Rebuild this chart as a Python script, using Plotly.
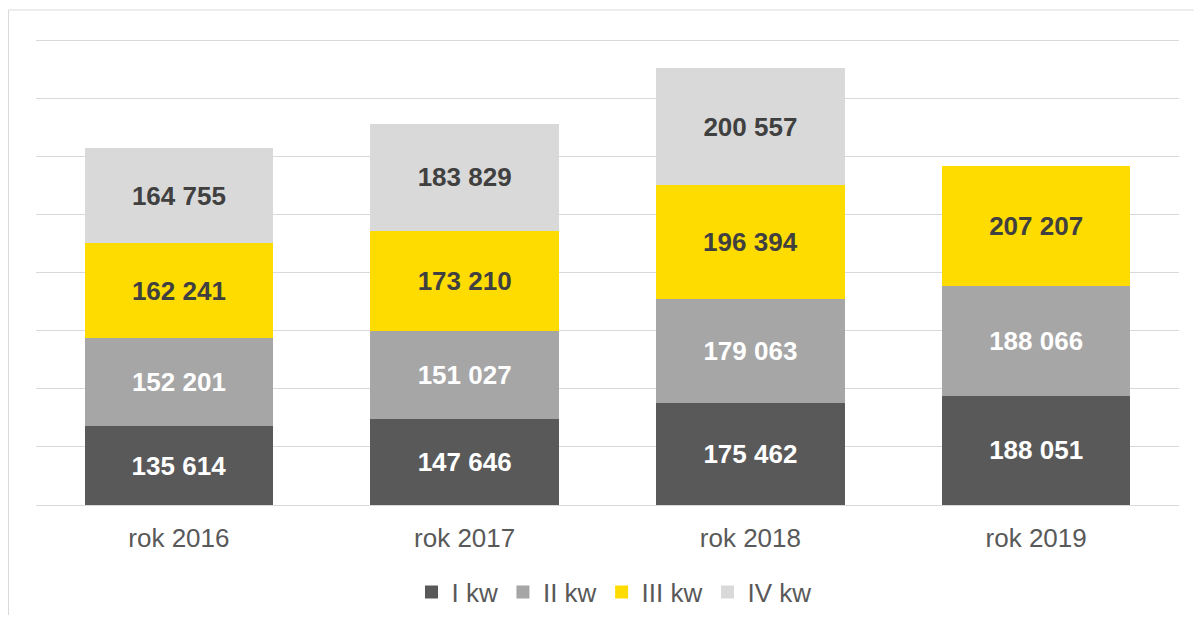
import plotly.graph_objects as go

categories = ["rok 2016", "rok 2017", "rok 2018", "rok 2019"]
series_names = ["I kw", "II kw", "III kw", "IV kw"]
q1 = [135614, 147646, 175462, 188051]
q2 = [152201, 151027, 179063, 188066]
q3 = [162241, 173210, 196394, 207207]
q4 = [164755, 183829, 200557, None]

colors = ["#595959", "#a6a6a6", "#ffdc00", "#d9d9d9"]
text_colors = ["#ffffff", "#ffffff", "#404040", "#404040"]


def fmt(v):
    return "" if v is None else f"{v:,}".replace(",", " ")


fig = go.Figure()
for name, vals, col, tcol in zip(series_names, [q1, q2, q3, q4], colors, text_colors):
    fig.add_trace(go.Bar(
        name=name,
        x=categories,
        y=vals,
        marker=dict(color=col, line=dict(width=0)),
        text=[fmt(v) for v in vals],
        textposition="inside",
        insidetextanchor="middle",
        textangle=0,
        constraintext="none",
        textfont=dict(family="Liberation Sans, Arial, sans-serif", size=26, color=tcol, weight="bold"),
        hoverinfo="skip",
        showlegend=False,
    ))

# legend entries with square swatches
for name, col in zip(series_names, colors):
    fig.add_trace(go.Scatter(
        name=name,
        x=[None], y=[None],
        mode="markers",
        marker=dict(symbol="square", size=13, color=col, line=dict(width=0)),
        hoverinfo="skip",
        showlegend=True,
    ))

W, H = 1186, 607
T, B = 30, 110
plot_h = H - T - B
fig.update_layout(
    barmode="stack",
    bargap=0.34,
    width=W,
    height=H,
    margin=dict(l=28, r=15, t=T, b=B, autoexpand=False),
    paper_bgcolor="white",
    plot_bgcolor="white",
    font=dict(family="Liberation Sans, Arial, sans-serif", color="#595959"),
    showlegend=True,
    legend=dict(
        orientation="h",
        xref="container", yref="container",
        x=606 / W, xanchor="center",
        y=(H - 584) / H, yanchor="middle",
        font=dict(size=26, color="#595959"),
        traceorder="normal",
        itemclick=False,
        itemdoubleclick=False,
    ),
    xaxis=dict(
        showgrid=False,
        showline=False,
        zeroline=False,
        automargin=False,
        tickfont=dict(size=26, color="#595959"),
        ticks="outside",
        ticklen=10,
        tickcolor="rgba(0,0,0,0)",
    ),
    yaxis=dict(
        range=[0, 803500],
        tickmode="linear",
        tick0=0,
        dtick=100000,
        automargin=False,
        showticklabels=False,
        showgrid=True,
        gridcolor="#d9d9d9",
        gridwidth=1,
        zeroline=True,
        zerolinecolor="#d9d9d9",
        zerolinewidth=1,
        showline=False,
    ),
    shapes=[dict(
        type="rect", xref="paper", yref="paper",
        x0=(0.5 - 28) / 1143, y0=-0.5, x1=1.1, y1=1 + 28 / plot_h,
        line=dict(color="#d9d9d9", width=1),
        fillcolor="rgba(0,0,0,0)",
        layer="below",
    )],
)

fig.write_html("out.html")
